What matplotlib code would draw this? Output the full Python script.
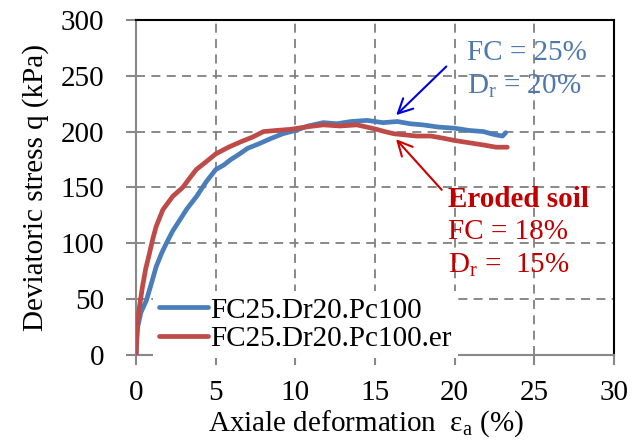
import matplotlib
matplotlib.use("Agg")
import matplotlib.pyplot as plt

plt.rcParams["font.family"] = ["Liberation Serif", "DejaVu Serif"]
plt.rcParams["mathtext.fontset"] = "custom"
plt.rcParams["mathtext.rm"] = "Liberation Serif"

# strain (%) and deviatoric stress (kPa)
strain_base = [0, 0.05, 0.1, 0.3, 0.65, 1.0, 1.26, 1.6, 1.9, 2.3, 2.75, 3.2, 3.8, 4.4, 5.0,
               5.5, 5.95, 6.5, 7.0, 7.7, 8.5, 9.2, 10.0, 10.8, 11.75, 12.6, 13.5, 14.5,
               15.5, 16.4, 17.2, 18.0, 19.0, 20.0, 20.9, 21.8, 22.3, 22.6, 23.0, 23.2]
q_base = [0, 15, 25, 38, 49, 66, 79, 91, 100, 111, 121, 131, 142, 155, 166,
          170, 175, 180, 185, 189, 194, 198, 201, 205, 208, 207, 209, 210,
          208, 209, 207, 206, 204, 203, 201, 200, 198, 197, 196, 199]

strain_er = [0, 0.05, 0.1, 0.2, 0.4, 0.6, 0.84, 1.05, 1.26, 1.68, 2.3, 2.93, 3.4, 3.78,
             4.4, 5.0, 5.8, 6.6, 7.3, 8.0, 8.8, 9.7, 10.6, 11.75, 12.8, 13.85, 14.5,
             15.1, 15.6, 16.2, 16.9, 17.6, 18.5, 19.3, 20.0, 20.9, 21.8, 22.6, 23.3]
q_er = [0, 20, 30, 42, 61, 77, 91, 104, 115, 130, 142, 150, 159, 166,
        173, 180, 186, 191, 195, 200, 201, 202, 204, 206, 205, 206, 204,
        202, 200, 198, 197, 196, 196, 194, 192, 190, 188, 186, 186]

BLUE = "#4a7ebb"
RED = "#be4b48"
FS = 21

fig = plt.figure(figsize=(6.33, 4.42), dpi=100)
ax = fig.add_axes([0.215, 0.197, 0.755, 0.758])

ax.plot(strain_base, q_base, color=BLUE, linewidth=3.4, label="FC25.Dr20.Pc100",
        solid_capstyle="round", zorder=3)
ax.plot(strain_er, q_er, color=RED, linewidth=3.4, label="FC25.Dr20.Pc100.er",
        solid_capstyle="round", zorder=3)

ax.set_xlim(0, 30)
ax.set_ylim(0, 300)
ax.set_xticks(range(0, 31, 5))
ax.set_yticks(range(0, 301, 50))
ax.grid(True, color="#808080", linestyle=(0, (5, 3.5)), linewidth=1.3)

for side in ("left", "bottom"):
    ax.spines[side].set_color("#888888")
    ax.spines[side].set_linewidth(1.5)
for side in ("top", "right"):
    ax.spines[side].set_color("black")
    ax.spines[side].set_linewidth(1.5)
ax.tick_params(axis="both", direction="out", length=7, width=1.5, color="#888888",
               labelsize=FS)
ax.tick_params(axis="x", pad=11)
ax.tick_params(axis="y", pad=16)

ax.set_xlabel("Axiale deformation  ε$_\\mathregular{a}$ (%)", fontsize=FS, va="top")
ax.xaxis.set_label_coords(0.48, -0.158)
ax.set_ylabel("Deviatoric stress q (kPa)", fontsize=FS, labelpad=8)

leg = ax.legend(loc="lower left", bbox_to_anchor=(0.035, -0.01), frameon=True,
                fontsize=FS, handlelength=1.7, handletextpad=0.08, labelspacing=0.08,
                borderaxespad=0.0, borderpad=0.2, fancybox=False)
leg.get_frame().set_facecolor("white")
leg.get_frame().set_edgecolor("none")
leg.get_frame().set_alpha(1.0)
leg.set_zorder(4)

ax.text(20.75, 270, "FC = 25%", color="#4f78b0", fontsize=FS, ha="left", va="center")
ax.text(20.75, 241, "D$_\\mathregular{r}$ = 20%", color="#4f78b0", fontsize=FS,
        ha="left", va="center")
ax.annotate("", xy=(16.2, 213), xytext=(19.6, 260),
            arrowprops=dict(arrowstyle="->", color="#0000dd", lw=1.5, mutation_scale=26))

ax.text(19.6, 139, "Eroded soil", color="#c00000", fontsize=FS, fontweight="bold",
        ha="left", va="center")
ax.text(19.6, 110, "FC = 18%", color="#c00000", fontsize=FS, ha="left", va="center")
ax.text(19.6, 80, "D$_\\mathregular{r}$ =  15%", color="#c00000", fontsize=FS,
        ha="left", va="center")
ax.annotate("", xy=(16.2, 195), xytext=(19.3, 146),
            arrowprops=dict(arrowstyle="->", color="#cc0000", lw=1.5, mutation_scale=26))

fig.savefig("out.png", dpi=100)
